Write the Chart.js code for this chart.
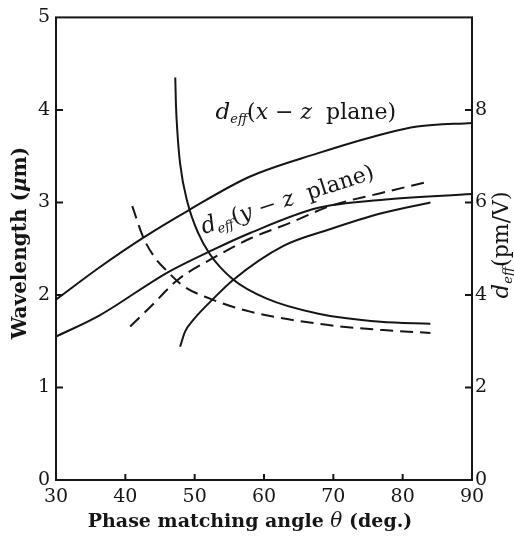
<!DOCTYPE html>
<html>
<head>
<meta charset="utf-8">
<script src="https://cdn.jsdelivr.net/npm/chart.js@4.4.1/dist/chart.umd.min.js"></script>
<style>
  html, body { margin: 0; padding: 0; background: #fff; }
  #wrap { width: 514px; height: 536px; }
</style>
</head>
<body>
<div id="wrap"><canvas id="chart" width="514" height="536"></canvas></div>
<script>
// d_eff curves (right axis, pm/V)
const xzTheta = [30, 36.3, 42.6, 49, 58, 67.7, 77.2, 82.1, 90];
const xzDeff  = [3.9, 4.6, 5.24, 5.82, 6.56, 7.06, 7.48, 7.64, 7.72];
const yzTheta = [30, 36.3, 46, 52.7, 58, 67.7, 77.2, 90];
const yzDeff  = [3.1, 3.56, 4.48, 4.98, 5.34, 5.88, 6.06, 6.18];

// wavelength curves (left axis, um)
const solidDownTheta = [47.2, 47.3, 47.5, 47.9, 49, 50.5, 52.2, 55.5, 60.4, 67.7, 76.8, 84];
const solidDownWl    = [4.35, 4.06, 3.77, 3.42, 2.99, 2.67, 2.44, 2.17, 1.96, 1.80, 1.71, 1.69];
const dashDownTheta  = [41, 42.6, 44.3, 46, 48.3, 52.2, 58, 67.7, 77.2, 84];
const dashDownWl     = [2.96, 2.62, 2.40, 2.26, 2.10, 1.96, 1.82, 1.69, 1.62, 1.59];
const solidUpTheta   = [47.9, 48.6, 49.8, 52.7, 55.5, 62.8, 69.5, 76.8, 84];
const solidUpWl      = [1.44, 1.60, 1.73, 1.96, 2.16, 2.53, 2.71, 2.88, 3.00];
const dashUpTheta    = [40.7, 43.6, 47.5, 52.7, 58, 63.8, 69.5, 76.8, 84];
const dashUpWl       = [1.66, 1.87, 2.16, 2.40, 2.61, 2.78, 2.96, 3.10, 3.23];

const xTicks = [30, 40, 50, 60, 70, 80, 90];
const wlTicks = [0, 1, 2, 3, 4, 5];
const deffTicks = [0, 2, 4, 6, 8];

function pts(xs, ys) {
    return xs.map((x, i) => ({ x: x, y: ys[i] }));
}

function curve(xs, ys, axis, dashed) {
    return {
        data: pts(xs, ys),
        yAxisID: axis,
        borderColor: "#151515",
        borderWidth: 2,
        borderDash: dashed ? [13, 7] : [],
        pointRadius: 0,
        fill: false,
        cubicInterpolationMode: "monotone"
    };
}

const serif = '"DejaVu Serif", "Liberation Serif", serif';

// draw text made of pieces with different fonts, starting at (x, y) baseline
function drawPieces(ctx, x, y, rot, pieces, align) {
    ctx.save();
    ctx.translate(x, y);
    ctx.rotate(rot);
    let total = 0;
    pieces.forEach(p => { ctx.font = p.f; total += ctx.measureText(p.t).width; });
    let cx = align === "center" ? -total / 2 : 0;
    ctx.textBaseline = "alphabetic";
    ctx.textAlign = "left";
    ctx.fillStyle = "#151515";
    pieces.forEach(p => {
        ctx.font = p.f;
        ctx.fillText(p.t, cx, p.dy || 0);
        cx += ctx.measureText(p.t).width;
    });
    ctx.restore();
}

function deffLabel(plane1, plane2) {
    return [
        { t: "d", f: "italic 23px " + serif },
        { t: "eff", f: "italic 13px " + serif, dy: 4 },
        { t: "(", f: "22px " + serif },
        { t: plane1, f: "italic 22px " + serif },
        { t: " \u2212 ", f: "22px " + serif },
        { t: plane2, f: "italic 22px " + serif },
        { t: "  plane)", f: "22px " + serif }
    ];
}

const decor = {
    id: "decor",
    afterDraw(chart) {
        const ctx = chart.ctx;
        const a = chart.chartArea;
        const sx = chart.scales.x, sy = chart.scales.y, sy1 = chart.scales.y1;
        ctx.save();
        ctx.strokeStyle = "#151515";
        ctx.lineWidth = 2;
        ctx.strokeRect(a.left, a.top, a.right - a.left, a.bottom - a.top);
        ctx.beginPath();
        xTicks.slice(1, -1).forEach(v => {
            const px = sx.getPixelForValue(v);
            ctx.moveTo(px, a.bottom); ctx.lineTo(px, a.bottom - 6);
        });
        wlTicks.slice(1, -1).forEach(v => {
            const py = sy.getPixelForValue(v);
            ctx.moveTo(a.left, py); ctx.lineTo(a.left + 7, py);
        });
        deffTicks.slice(1).forEach(v => {
            const py = sy1.getPixelForValue(v);
            ctx.moveTo(a.right, py); ctx.lineTo(a.right - 7, py);
        });
        ctx.stroke();
        ctx.restore();

        // curve labels
        drawPieces(ctx, sx.getPixelForValue(53.0), sy.getPixelForValue(3.9), 0, deffLabel("x", "z"));
        drawPieces(ctx, sx.getPixelForValue(51.3), sy.getPixelForValue(2.66), -18 * Math.PI / 180, deffLabel("y", "z"));

        // axis titles
        drawPieces(ctx, 250, 527, 0, [
            { t: "Phase matching angle ", f: "bold 19px " + serif },
            { t: "\u03b8", f: "italic 20px " + serif },
            { t: " (deg.)", f: "bold 19px " + serif }
        ], "center");
        drawPieces(ctx, 26, 243, -Math.PI / 2, [
            { t: "Wavelength (", f: "bold 20px " + serif },
            { t: "\u03bc", f: "italic bold 20px " + serif },
            { t: "m)", f: "bold 20px " + serif }
        ], "center");
        drawPieces(ctx, 508, 245, -Math.PI / 2, [
            { t: "d", f: "italic 23px " + serif },
            { t: "eff", f: "italic 13px " + serif, dy: 4 },
            { t: "(pm/V)", f: "22px " + serif }
        ], "center");
    }
};

const tickFont = { family: serif, size: 19 };

new Chart(document.getElementById("chart"), {
    type: "line",
    data: {
        datasets: [
            curve(xzTheta, xzDeff, "y1", false),
            curve(yzTheta, yzDeff, "y1", false),
            curve(solidDownTheta, solidDownWl, "y", false),
            curve(dashDownTheta, dashDownWl, "y", true),
            curve(solidUpTheta, solidUpWl, "y", false),
            curve(dashUpTheta, dashUpWl, "y", true)
        ]
    },
    options: {
        responsive: false,
        animation: false,
        layout: { padding: { top: 11 } },
        plugins: { legend: { display: false }, tooltip: { enabled: false } },
        scales: {
            x: {
                type: "linear", min: 30, max: 90,
                afterFit: s => { s.height = 56; },
                afterBuildTicks: s => { s.ticks = xTicks.map(v => ({ value: v })); },
                grid: { display: false, drawTicks: false },
                border: { display: false },
                ticks: { color: "#151515", font: tickFont, padding: 6, maxRotation: 0 }
            },
            y: {
                type: "linear", position: "left", min: 0, max: 5,
                afterFit: s => { s.width = 56; },
                afterBuildTicks: s => { s.ticks = wlTicks.map(v => ({ value: v })); },
                grid: { display: false, drawTicks: false },
                border: { display: false },
                ticks: { color: "#151515", font: tickFont, padding: 6 }
            },
            y1: {
                type: "linear", position: "right", min: 0, max: 10,
                afterFit: s => { s.width = 42; },
                afterBuildTicks: s => { s.ticks = deffTicks.map(v => ({ value: v })); },
                grid: { display: false, drawTicks: false },
                border: { display: false },
                ticks: { color: "#151515", font: tickFont, padding: 3 }
            }
        }
    },
    plugins: [decor]
});
</script>
</body>
</html>
